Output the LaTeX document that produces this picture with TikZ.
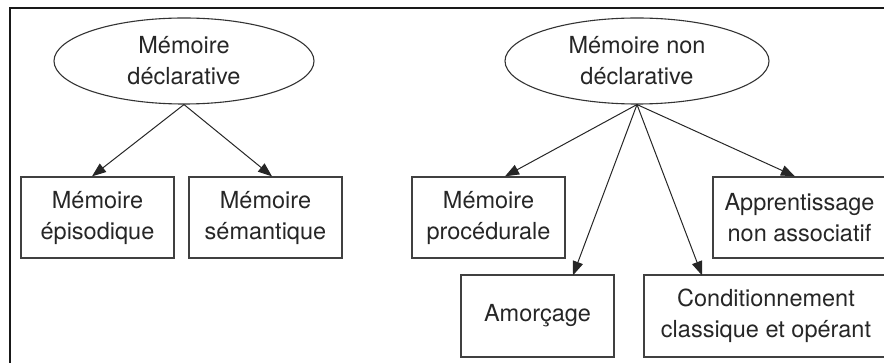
\documentclass[tikz,border=0pt]{standalone}
\usepackage{fontspec}
\setmainfont{TeX Gyre Heros}
\usetikzlibrary{shapes.geometric,arrows.meta}
\begin{document}
\begin{tikzpicture}[x=1pt,y=-1pt,
  every node/.style={font=\fontsize{23.5pt}{31pt}\selectfont, text=black!85, align=center, inner sep=0pt},
  oval/.style={ellipse, draw=black!80, line width=1.1pt},
  box/.style={rectangle, draw=black!75, line width=1.3pt},
  arr/.style={draw=black!85, line width=1pt, -{Triangle[length=14pt,width=10.5pt]}}]
\useasboundingbox (0,0) rectangle (884,363);
\clip (0,0) rectangle (884,363);
% frame
\draw[line width=2.2pt, black!90] (10,363) -- (10,8) -- (884,8);
% ellipses
\node[oval, minimum width=260pt, minimum height=86pt] (e1) at (184,61) {Mémoire\\déclarative};
\node[oval, minimum width=264pt, minimum height=86pt] (e2) at (637,61) {Mémoire non\\déclarative};
% boxes
\node[box, minimum width=153pt, minimum height=81pt] (b1) at (97.5,217.5) {Mémoire\\épisodique};
\node[box, minimum width=153pt, minimum height=81pt] (b2) at (265.5,217.5) {Mémoire\\sémantique};
\node[box, minimum width=153pt, minimum height=81pt] (b3) at (488.5,217.5) {Mémoire\\procédurale};
\node[box, minimum width=153pt, minimum height=82pt] (b4) at (537.5,316) {Amorçage};
\node[box, minimum width=244pt, minimum height=82pt] (b5) at (766,316) {Conditionnement\\classique et opérant};
\node[box, minimum width=173pt, minimum height=81pt] (b6) at (799.5,217.5) {Apprentissage\\non associatif};
% arrows
\draw[arr] (e1.south) -- ([xshift=-5.5pt]b1.north);
\draw[arr] (e1.south) -- ([xshift=6.5pt]b2.north);
\draw[arr] (e2.south) -- ([xshift=16.5pt]b3.north);
\draw[arr] (e2.south) -- ([xshift=35.5pt,yshift=-1pt]b4.north);
\draw[arr] (e2.south) -- ([xshift=-64pt,yshift=-1pt]b5.north);
\draw[arr] (e2.south) -- ([xshift=-4.5pt]b6.north);
\end{tikzpicture}
\end{document}
